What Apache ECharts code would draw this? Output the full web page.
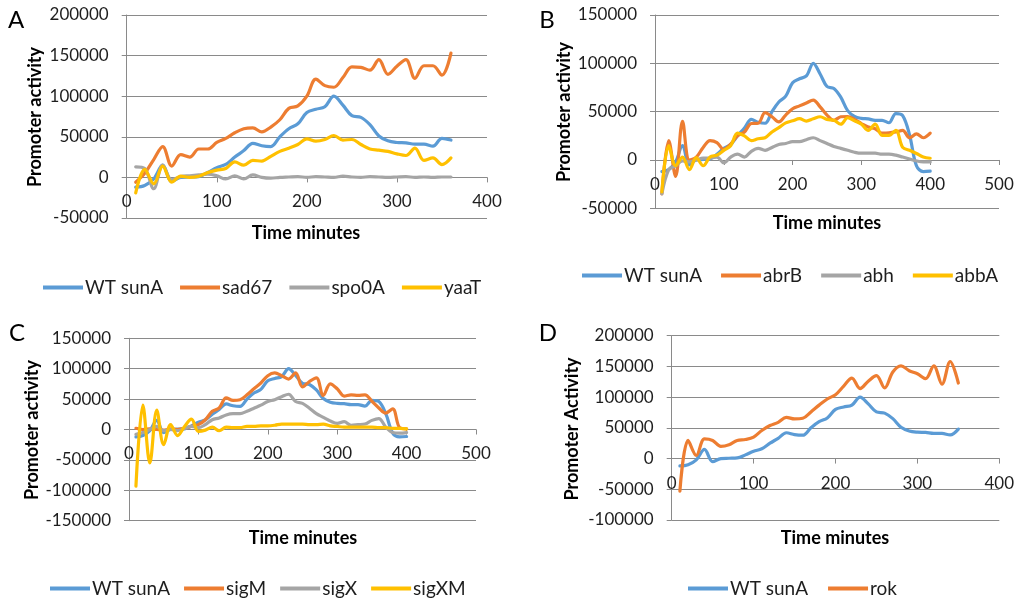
<!DOCTYPE html>
<html><head><meta charset="utf-8">
<script src="https://cdn.jsdelivr.net/npm/echarts@6/dist/echarts.min.js"></script>
<style>html,body{margin:0;padding:0;background:#fff}#c{width:1018px;height:600px}</style>
</head><body><div id="c"></div>
<script>
// ---- data ----
const minutes = [10,20,30,40,50,60,70,80,90,100,110,120,130,140,150,160,170,180,190,200,210,220,230,240,250,260,270,280,290,300,310,320,330,340,350,360,370,380,390,400];
const wtSunA = [-12000,-10000,-2000,15000,-5000,0,500,1000,6000,12000,16000,25000,33000,42000,39000,38000,50000,60000,66000,80000,84000,87000,100000,89000,76000,74000,65000,51000,45000,43000,42500,41000,41000,38500,48000,46000,26000,-6000,-12000,-11500];
// panel A (10..360)
const sad67 = [-6000,5000,22000,38000,14000,28000,25000,35000,35000,43000,48000,55000,60000,61000,56000,62000,71000,85000,88000,100000,121000,113000,111000,123000,136000,135500,132000,145000,127000,137000,145000,122000,137500,137500,126000,153000];
const spo0A = [13000,11000,-14000,15000,-3000,1000,2000,3000,4000,2000,-2000,2000,-2000,3000,0,-1000,0,500,1000,0,1000,500,0,1500,500,0,1000,500,0,500,1000,0,500,0,500,500];
const yaaT = [-19000,10000,-8000,14000,-6000,1500,0,1500,6000,9000,11000,19000,15000,21000,20000,26000,32000,36000,40500,47500,44600,46700,51600,46000,46700,40500,35000,33500,32000,29000,27000,36000,21000,24000,15700,24000];
// panel B (10..400)
const abrB = [-35000,20000,-17000,40000,0,3000,13000,20000,18000,11000,16500,25000,29000,37700,38000,49000,44700,39400,46500,53000,56000,59000,62000,55000,46500,41000,44700,45000,42000,37700,34000,32400,27800,28000,29000,30600,23000,27000,23000,27800];
const abh = [-35000,-10000,-6000,-1000,-2000,0,2000,2000,3000,-3000,3000,6000,3000,9000,12000,10000,13000,16000,17000,19000,19000,21000,23000,20000,17000,14000,12000,10000,8000,7000,7000,7000,6000,6000,5000,3000,1000,-1000,-2000,-2000];
const abbA = [-33000,15000,-6000,3000,-10000,2500,-6000,3000,5000,10000,14800,27800,25000,20000,22000,23000,29000,33500,38400,40500,42700,40300,42700,44700,42000,41000,37000,43700,40500,37000,30600,37000,25400,25400,30600,13000,10000,6700,3000,1800];
// panel C (10..400)
const sigM = [2000,0,1000,0,-1000,1000,0,2000,5000,8000,16000,30000,35500,52000,48000,49000,57000,67000,76500,88500,93000,88500,83000,93000,70000,79000,85000,56000,75000,67000,55000,57000,56000,57000,46500,35500,27000,34000,3000,1000];
const sigX = [-8000,-5000,0,5000,-2000,0,-2000,2000,5000,3000,8000,16000,19000,24000,26000,26000,30000,35000,40000,46000,49000,54000,58000,46000,43000,35000,26000,20000,14000,10000,13000,7000,8000,9000,15000,18000,4000,-5000,-6000,-5000];
const sigXM = [-93000,40000,-55000,32000,-25000,8000,-10000,5000,17000,-3000,-1000,4000,-2000,4000,3000,3000,5000,5000,6000,6000,7000,9000,9000,9000,9000,8000,8000,9000,6000,5000,4000,4000,4000,4000,4000,3000,3000,2000,2000,1000];
// panel D (10..350)
const rok = [-53000,29500,5000,32000,29500,20000,22600,29500,31000,35000,45700,53800,59000,67000,64500,65600,76000,87000,97000,104000,118000,131000,114000,126000,135000,115000,141000,151000,143000,138000,130000,151000,121000,158000,123000];
const xTicks = {A:[0,400], B:[0,500], C:[0,500], D:[0,400]};
const yRange = {A:[-50000,200000], B:[-50000,150000], C:[-150000,150000], D:[-100000,200000]};

// ---- styling ----
const C_BLUE='#5B9BD5', C_OR='#ED7D31', C_GR='#A5A5A5', C_YE='#FFC000';
const AX='#8a8a8a', TXT='#1e1e1e', FONT='Lato';
const keys=['A','B','C','D'];
const plotGrids = [
  {left:126.7, top:15, width:360.3, height:203},
  {left:655, top:15, width:344, height:193.3},
  {left:129, top:338.3, width:347, height:182.4},
  {left:671.7, top:335.7, width:327.6, height:184.3}
];
// thin helper grids whose bottom edge sits on each panel's zero line (for the x axis)
const axisGrids = plotGrids.map((g,i)=>{
  const r = yRange[keys[i]];
  const zeroY = g.top + g.height * r[1] / (r[1]-r[0]);
  return {left:g.left, width:g.width, top:zeroY-10, height:10};
});
const grids = plotGrids.concat(axisGrids);
function pairs(vals){ return vals.map((v,i)=>[minutes[i], v]); }
const xAxis = keys.map((k,i)=>({type:'value', gridIndex:i, min:xTicks[k][0], max:xTicks[k][1], interval:100, show:false}))
 .concat(keys.map((k,i)=>({type:'value', gridIndex:4+i, min:xTicks[k][0], max:xTicks[k][1], interval:100, position:'bottom',
  axisLine:{show:true, onZero:false, lineStyle:{color:AX, width:1}},
  axisTick:{show:true, length:5, lineStyle:{color:AX}},
  axisLabel:{color:TXT, fontFamily:FONT, fontSize:17, margin:16},
  splitLine:{show:false}})));
const yAxis = keys.map((k,i)=>({type:'value', gridIndex:i, min:yRange[k][0], max:yRange[k][1], interval:50000,
  axisLine:{show:true, onZero:false, lineStyle:{color:AX, width:1}},
  axisTick:{show:true, length:5, lineStyle:{color:AX}},
  axisLabel:{color:TXT, fontFamily:FONT, fontSize:17, margin:18, formatter:(v)=>String(v)},
  splitLine:{show:true, lineStyle:{color:AX, width:1}}}))
 .concat(keys.map((k,i)=>({type:'value', gridIndex:4+i, min:0, max:1, show:false})));
function ser(name, vals, color, gi){
  return {type:'line', name, data:pairs(vals), xAxisIndex:gi, yAxisIndex:gi, smooth:0.35, symbol:'none', showSymbol:false,
    lineStyle:{color, width:3.2, join:'round', cap:'round'}, itemStyle:{color}};
}
const series = [
  ser('WT sunA', wtSunA.slice(0,36), C_BLUE, 0), ser('sad67', sad67, C_OR, 0), ser('spo0A', spo0A, C_GR, 0), ser('yaaT', yaaT, C_YE, 0),
  ser('WT sunA', wtSunA, C_BLUE, 1), ser('abrB', abrB, C_OR, 1), ser('abh', abh, C_GR, 1), ser('abbA', abbA, C_YE, 1),
  ser('WT sunA', wtSunA, C_BLUE, 2), ser('sigM', sigM, C_OR, 2), ser('sigX', sigX, C_GR, 2), ser('sigXM', sigXM, C_YE, 2),
  ser('WT sunA', wtSunA.slice(0,35), C_BLUE, 3), ser('rok', rok, C_OR, 3)
];
function leg(names, left, top, gap){
  return {data:names, left, top, orient:'horizontal', icon:'rect', itemWidth:40, itemHeight:4, itemGap:gap, padding:0,
    textStyle:{color:TXT, fontFamily:FONT, fontSize:19, padding:[0,0,0,-3]}, selectedMode:false};
}
const legend = [
  leg(['WT sunA','sad67','spo0A','yaaT'], 43, 278, 17),
  leg(['WT sunA','abrB','abh','abbA'], 582, 266, 19),
  leg(['WT sunA','sigM','sigX','sigXM'], 50, 579, 14),
  leg(['WT sunA','rok'], 688, 579, 20)
];
function txt(t, x, y, size, bold, rot){
  return {type:'text', x, y, rotation: rot?Math.PI/2:0,
    style:{text:t, fontFamily:FONT, fontSize:size, fontWeight:bold?'bold':'normal', fill:'#000', align:'center', verticalAlign:'middle'}};
}
const graphic = [
  txt('A', 16, 20, 24, false), txt('B', 547, 20, 24, false), txt('C', 17, 333, 24, false), txt('D', 548, 333, 24, false),
  txt('Promoter activity', 35, 117, 18, true, true), txt('Promoter activity', 564, 112, 18, true, true),
  txt('Promoter activity', 32, 430, 18, true, true), txt('Promoter Activity', 572, 429, 18, true, true),
  txt('Time minutes', 306, 233, 18, true), txt('Time minutes', 827, 223, 18, true),
  txt('Time minutes', 303, 538, 18, true), txt('Time minutes', 835, 538, 18, true)
];
const chart = echarts.init(document.getElementById('c'), null, {renderer:'canvas'});
chart.setOption({animation:false, backgroundColor:'#fff', grid:grids, xAxis, yAxis, series, legend, graphic});
</script></body></html>
